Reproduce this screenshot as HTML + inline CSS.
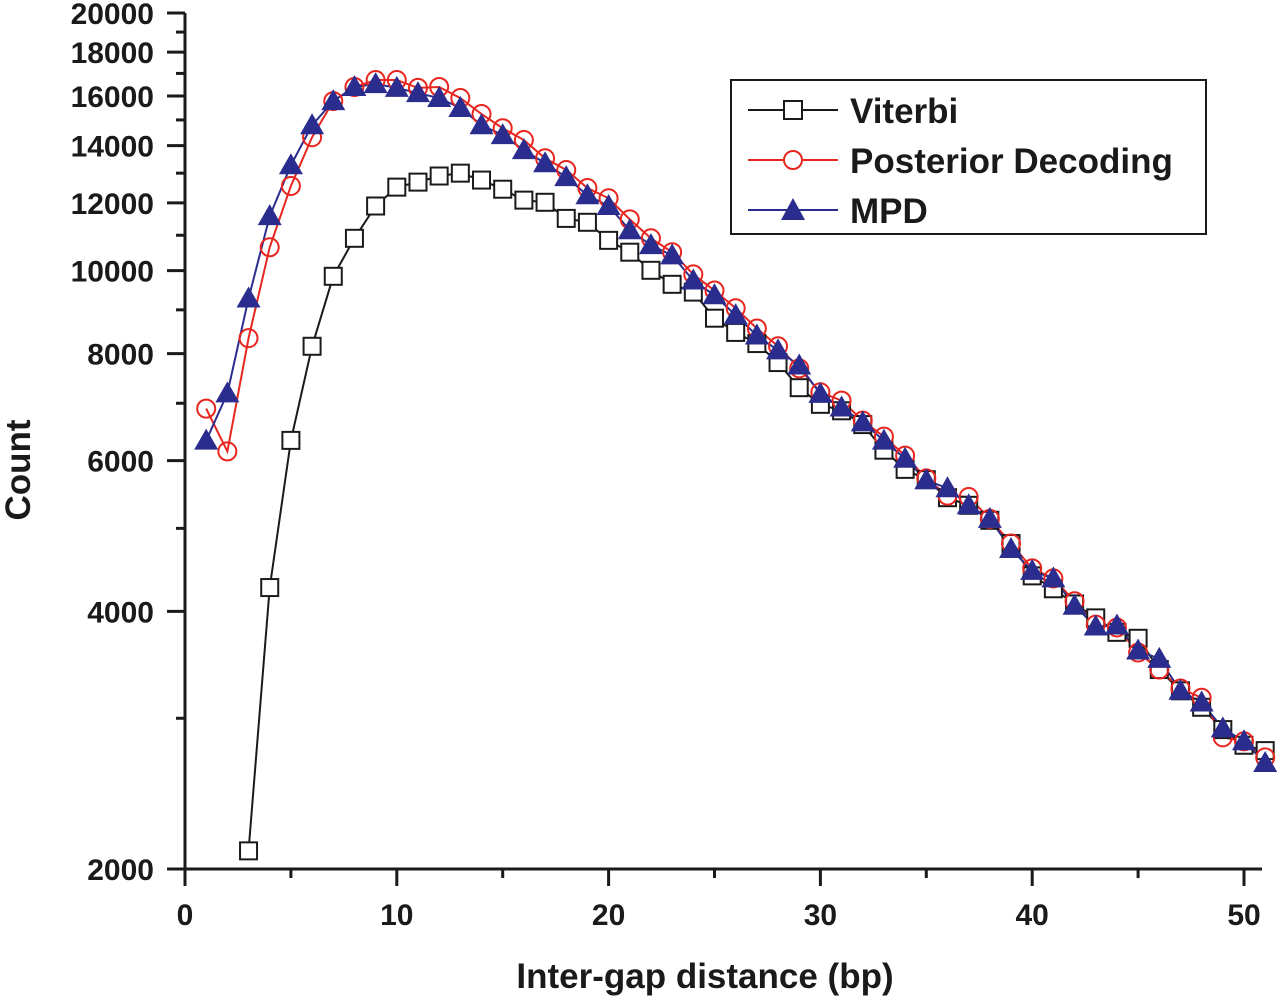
<!DOCTYPE html>
<html><head><meta charset="utf-8"><style>
body{margin:0;background:#fff}
svg text{font-family:"Liberation Sans",Arial,sans-serif;fill:#1a1a1a;font-weight:bold}
</style></head><body>
<svg id="chart" width="1280" height="997" viewBox="0 0 1280 997" xmlns="http://www.w3.org/2000/svg">
<g id="axes"></g>
<g id="series"></g>
<text transform="translate(30,470) rotate(-90)" text-anchor="middle" font-size="35">Count</text>
<text x="705" y="988" text-anchor="middle" font-size="35">Inter-gap distance (bp)</text>
<g>
<rect x="731" y="80" width="475" height="154" fill="#fff" stroke="#1a1a1a" stroke-width="2"/>
<g><line x1="748" y1="110" x2="838" y2="110" stroke="#1a1a1a" stroke-width="2"/><rect x="784" y="101" width="18" height="18" fill="#fff" stroke="#1a1a1a" stroke-width="2"/><text x="850" y="123" font-size="35">Viterbi</text></g>
<g><line x1="748" y1="160" x2="838" y2="160" stroke="#e8261f" stroke-width="2"/><circle cx="793" cy="160" r="9" fill="#fff" stroke="#e8261f" stroke-width="2"/><text x="850" y="173" font-size="35">Posterior Decoding</text></g>
<g><line x1="748" y1="210" x2="838" y2="210" stroke="#2b2d8e" stroke-width="2"/><polygon points="793,198 805,220 781,220" fill="#2b2d8e"/><text x="850" y="223" font-size="35">MPD</text></g>
</g>
</svg>
<script>
const viterbiX=[3,4,5,6,7,8,9,10,11,12,13,14,15,16,17,18,19,20,21,22,23,24,25,26,27,28,29,30,31,32,33,34,35,36,37,38,39,40,41,42,43,44,45,46,47,48,49,50,51];
const viterbiY=[2100,4264,6335,8160,9850,10910,11900,12520,12690,12900,13000,12760,12450,12090,12020,11510,11390,10850,10510,10010,9640,9440,8800,8470,8220,7810,7300,6980,6860,6610,6170,5860,5700,5430,5320,5110,4800,4400,4250,4080,3930,3780,3720,3420,3230,3090,2910,2790,2750];
const pdX=[1,2,3,4,5,6,7,8,9,10,11,12,13,14,15,16,17,18,19,20,21,22,23,24,25,26,27,28,29,30,31,32,33,34,35,36,37,38,39,40,41,42,43,44,45,46,47,48,49,50,51];
const pdY=[6900,6150,8340,10650,12560,14320,15780,16390,16700,16700,16350,16390,15910,15240,14670,14210,13530,13110,12490,12150,11480,10910,10510,9900,9480,9040,8560,8160,7690,7210,7050,6680,6400,6080,5720,5460,5440,5130,4800,4490,4370,4110,3860,3830,3580,3420,3250,3170,2850,2820,2700];
const mpdX=pdX;
const mpdY=[6330,7190,9280,11580,13280,14790,15780,16390,16520,16350,16120,15910,15490,14790,14400,13830,13350,12860,12250,11900,11150,10710,10420,9740,9360,8870,8400,8070,7750,7180,6920,6650,6330,6030,5690,5570,5320,5130,4730,4460,4370,4060,3840,3850,3600,3520,3230,3130,2920,2820,2660];
const yMajor=[2000,4000,6000,8000,10000,12000,14000,16000,18000,20000];
const yMinor=[3000,5000,7000,9000,11000,13000,15000,17000,19000];
const xMajor=[0,10,20,30,40,50];
const xMinor=[5,15,25,35,45];

const NS='http://www.w3.org/2000/svg';
const X0=185,X1=1244,XMIN=0,XMAX=50,YB=869,YT=13;
function xs(v){return X0+(v-XMIN)/(XMAX-XMIN)*(X1-X0);}
function ys(v){return YB-(Math.log10(v)-Math.log10(2000))/(Math.log10(20000)-Math.log10(2000))*(YB-YT);}
function mk(tag,attrs,parent){const e=document.createElementNS(NS,tag);for(const k in attrs)e.setAttribute(k,attrs[k]);parent.appendChild(e);return e;}
const ax=document.getElementById('axes');
let l=mk('line',{x1:X0,y1:YT,x2:X0,y2:YB,stroke:'#1a1a1a','stroke-width':3},ax);


l=mk('line',{x1:168,y1:YB,x2:1262,y2:YB,stroke:'#1a1a1a','stroke-width':3},ax);


yMajor.forEach(v=>{const y=ys(v);
 const t=mk('line',{x1:167,y1:y,x2:X0,y2:y,stroke:'#1a1a1a','stroke-width':3},ax);
 
 
 const tx=mk('text',{x:154,y:y+11,'text-anchor':'end','font-size':30},ax);tx.textContent=v;
 
 });
yMinor.forEach(v=>{const y=ys(v);
 const t=mk('line',{x1:176,y1:y,x2:X0,y2:y,stroke:'#1a1a1a','stroke-width':3},ax);
 
 });
xMajor.forEach(v=>{const x=xs(v);
 const t=mk('line',{x1:x,y1:YB,x2:x,y2:886,stroke:'#1a1a1a','stroke-width':3},ax);
 
 
 const tx=mk('text',{x:x,y:925,'text-anchor':'middle','font-size':30},ax);tx.textContent=v;
 
 });
xMinor.forEach(v=>{const x=xs(v);
 const t=mk('line',{x1:x,y1:YB,x2:x,y2:878,stroke:'#1a1a1a','stroke-width':3},ax);
 
 });
const sg=document.getElementById('series');
function line(xa,ya,color,name){
 const p=mk('polyline',{points:xa.map((x,i)=>xs(x)+','+ys(ya[i])).join(' '),fill:'none',stroke:color,'stroke-width':2},sg);
 
 }
line(viterbiX,viterbiY,'#1a1a1a','viterbi-line');
line(pdX,pdY,'#e8261f','posterior-line');
line(mpdX,mpdY,'#2b2d8e','mpd-line');
viterbiX.forEach((x,i)=>{const cx=xs(x),cy=ys(viterbiY[i]);
 const m=mk('rect',{x:cx-8.5,y:cy-8.5,width:17,height:17,fill:'#fff',stroke:'#1a1a1a','stroke-width':2},sg);
 
 });
pdX.forEach((x,i)=>{const cx=xs(x),cy=ys(pdY[i]);
 const m=mk('circle',{cx:cx,cy:cy,r:9,fill:'none',stroke:'#e8261f','stroke-width':2},sg);
 
 });
mpdX.forEach((x,i)=>{const cx=xs(x),cy=ys(mpdY[i]);
 const m=mk('polygon',{points:`${cx},${cy-12} ${cx+12},${cy+9} ${cx-12},${cy+9}`,fill:'#2b2d8e'},sg);
 
 });
</script>
</body></html>
